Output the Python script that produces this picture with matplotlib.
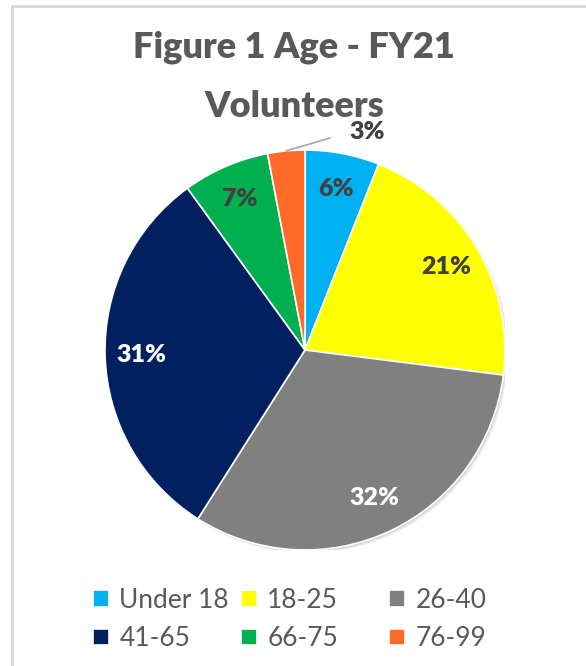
import numpy as np
import matplotlib.pyplot as plt
from matplotlib.patches import Circle
from matplotlib.lines import Line2D

# age groups of FY21 volunteers (percent)
ageGroups = ['Under 18', '18-25', '26-40', '41-65', '66-75', '76-99']
shares = [6, 21, 32, 31, 7, 3]
sliceColors = ['#00B0F0', '#FFFF00', '#808080', '#002060', '#00B050', '#FF6A28']
labelColors = ['#404040', '#404040', 'white', 'white', '#404040', '#404040']

textGray = '#595959'
plt.rcParams['font.family'] = ['Lato', 'DejaVu Sans']

fig = plt.figure(figsize=(5.86, 6.66), dpi=100)
fig.patch.set_facecolor('white')

# chart area frame (top and left edges visible)
fig.add_artist(Line2D([12 / 586, 12 / 586], [0, 1 - 6 / 666], color='#D9D9D9', lw=2))
fig.add_artist(Line2D([12 / 586, 1], [1 - 6 / 666, 1 - 6 / 666], color='#D9D9D9', lw=2))

fig.text(294 / 586, 1 - 58 / 666, 'Figure 1 Age - FY21', ha='center', va='baseline',
         fontsize=26, fontweight='heavy', color=textGray)
fig.text(294 / 586, 1 - 117 / 666, 'Volunteers', ha='center', va='baseline',
         fontsize=26, fontweight='heavy', color=textGray)

cx, cy, r = 305 / 586, 1 - 350 / 666, 200
ax = fig.add_axes([cx - r / 586, cy - r / 666, 2 * r / 586, 2 * r / 666])

# soft drop shadow under the pie
for k in range(4):
    off = 0.004 + 0.004 * k
    ax.add_patch(Circle((off, -off), 1.0, color='black', alpha=0.05, lw=0, zorder=0))

wedges, _ = ax.pie(shares, colors=sliceColors, startangle=90, counterclock=False,
                   radius=1.0, wedgeprops=dict(edgecolor='white', linewidth=1.2, zorder=2))

for i, (w, pct) in enumerate(zip(wedges, shares)):
    mid = np.deg2rad((w.theta1 + w.theta2) / 2)
    if pct < 5:
        # small slice: label outside with a leader line
        ex, ey = np.cos(mid), np.sin(mid)
        ax.plot([ex, 0.125], [ey, 1.06], color='#A6A6A6', lw=1.2, zorder=3, clip_on=False)
        ax.text(0.22, 1.09, f'{pct}%', ha='left', va='center', fontsize=18,
                fontweight='heavy', color=labelColors[i])
    else:
        d = 0.82
        ax.text(np.cos(mid) * d, np.sin(mid) * d, f'{pct}%', ha='center', va='center',
                fontsize=18, fontweight='heavy', color=labelColors[i])

ax.set_xlim(-1, 1)
ax.set_ylim(-1, 1)
ax.axis('off')

# legend laid out in three fixed-width columns
colX = [93 / 586, 241 / 586, 389 / 586]
for c in range(3):
    idx = [c, c + 3]
    fig.legend([wedges[j] for j in idx], [ageGroups[j] for j in idx],
               loc='upper left', bbox_to_anchor=(colX[c], 1 - 588 / 666),
               frameon=False, fontsize=19, labelcolor=textGray,
               handlelength=0.6, handleheight=0.6, handletextpad=0.4,
               labelspacing=0.5, borderpad=0, borderaxespad=0)

fig.savefig('out.png', dpi=100, facecolor='white')
